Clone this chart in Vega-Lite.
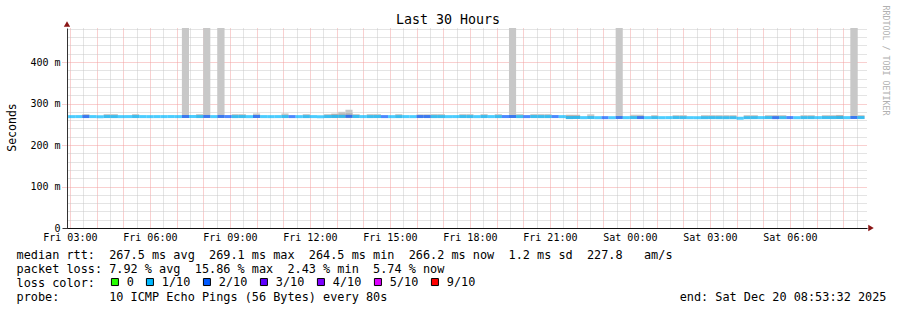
{
  "$schema": "https://vega.github.io/schema/vega-lite/v6.json",
  "width": 800,
  "height": 200,
  "autosize": {"type": "none"},
  "padding": {"left": 67, "top": 28, "right": 30, "bottom": 82},
  "background": "white",
  "config": {"view": {"stroke": null}, "font": "DejaVu Sans Mono", "scale": {"continuousPadding": 0}},
  "title": {"text": "Last 30 Hours", "anchor": "middle", "frame": "group", "dx": -19, "offset": -21, "font": "DejaVu Sans Mono", "fontSize": 13.3, "fontWeight": "normal", "color": "black"},
  "datasets": {
    "rtt": [
      {"t": "2025-12-19T03:04:00Z", "med": 268.4, "loss": "1/10"},
      {"t": "2025-12-19T03:20:00Z", "med": 268.5, "loss": "1/10"},
      {"t": "2025-12-19T03:36:00Z", "med": 268.6, "loss": "2/10"},
      {"t": "2025-12-19T03:52:00Z", "med": 268.5, "loss": "1/10"},
      {"t": "2025-12-19T04:08:00Z", "med": 268.4, "loss": "1/10"},
      {"t": "2025-12-19T04:24:00Z", "med": 268.6, "loss": "1/10"},
      {"t": "2025-12-19T04:40:00Z", "med": 268.5, "loss": "1/10"},
      {"t": "2025-12-19T04:56:00Z", "med": 268.4, "loss": "1/10"},
      {"t": "2025-12-19T05:12:00Z", "med": 268.5, "loss": "1/10"},
      {"t": "2025-12-19T05:28:00Z", "med": 268.6, "loss": "1/10"},
      {"t": "2025-12-19T05:44:00Z", "med": 268.5, "loss": "1/10"},
      {"t": "2025-12-19T06:00:00Z", "med": 268.4, "loss": "1/10"},
      {"t": "2025-12-19T06:16:00Z", "med": 268.5, "loss": "1/10"},
      {"t": "2025-12-19T06:32:00Z", "med": 268.5, "loss": "1/10"},
      {"t": "2025-12-19T06:48:00Z", "med": 268.6, "loss": "1/10"},
      {"t": "2025-12-19T07:04:00Z", "med": 268.5, "loss": "1/10"},
      {"t": "2025-12-19T07:20:00Z", "med": 268.7, "loss": "2/10"},
      {"t": "2025-12-19T07:36:00Z", "med": 268.5, "loss": "1/10"},
      {"t": "2025-12-19T07:52:00Z", "med": 268.6, "loss": "1/10"},
      {"t": "2025-12-19T08:08:00Z", "med": 268.8, "loss": "2/10"},
      {"t": "2025-12-19T08:24:00Z", "med": 268.5, "loss": "1/10"},
      {"t": "2025-12-19T08:40:00Z", "med": 268.8, "loss": "2/10"},
      {"t": "2025-12-19T08:56:00Z", "med": 268.6, "loss": "2/10"},
      {"t": "2025-12-19T09:12:00Z", "med": 268.5, "loss": "1/10"},
      {"t": "2025-12-19T09:28:00Z", "med": 268.6, "loss": "1/10"},
      {"t": "2025-12-19T09:44:00Z", "med": 268.4, "loss": "1/10"},
      {"t": "2025-12-19T10:00:00Z", "med": 268.7, "loss": "2/10"},
      {"t": "2025-12-19T10:16:00Z", "med": 268.5, "loss": "1/10"},
      {"t": "2025-12-19T10:32:00Z", "med": 268.4, "loss": "1/10"},
      {"t": "2025-12-19T10:48:00Z", "med": 268.5, "loss": "1/10"},
      {"t": "2025-12-19T11:04:00Z", "med": 268.6, "loss": "1/10"},
      {"t": "2025-12-19T11:20:00Z", "med": 268.5, "loss": "2/10"},
      {"t": "2025-12-19T11:36:00Z", "med": 268.4, "loss": "1/10"},
      {"t": "2025-12-19T11:52:00Z", "med": 268.5, "loss": "1/10"},
      {"t": "2025-12-19T12:08:00Z", "med": 268.5, "loss": "1/10"},
      {"t": "2025-12-19T12:24:00Z", "med": 268.4, "loss": "1/10"},
      {"t": "2025-12-19T12:40:00Z", "med": 268.6, "loss": "1/10"},
      {"t": "2025-12-19T12:56:00Z", "med": 268.8, "loss": "1/10"},
      {"t": "2025-12-19T13:12:00Z", "med": 269.0, "loss": "1/10"},
      {"t": "2025-12-19T13:28:00Z", "med": 269.1, "loss": "2/10"},
      {"t": "2025-12-19T13:44:00Z", "med": 268.7, "loss": "1/10"},
      {"t": "2025-12-19T14:00:00Z", "med": 268.5, "loss": "1/10"},
      {"t": "2025-12-19T14:16:00Z", "med": 268.5, "loss": "1/10"},
      {"t": "2025-12-19T14:32:00Z", "med": 268.6, "loss": "1/10"},
      {"t": "2025-12-19T14:48:00Z", "med": 268.5, "loss": "2/10"},
      {"t": "2025-12-19T15:04:00Z", "med": 268.4, "loss": "1/10"},
      {"t": "2025-12-19T15:20:00Z", "med": 268.5, "loss": "1/10"},
      {"t": "2025-12-19T15:36:00Z", "med": 268.5, "loss": "1/10"},
      {"t": "2025-12-19T15:52:00Z", "med": 268.4, "loss": "1/10"},
      {"t": "2025-12-19T16:08:00Z", "med": 268.6, "loss": "2/10"},
      {"t": "2025-12-19T16:24:00Z", "med": 268.6, "loss": "2/10"},
      {"t": "2025-12-19T16:40:00Z", "med": 268.5, "loss": "1/10"},
      {"t": "2025-12-19T16:56:00Z", "med": 268.5, "loss": "1/10"},
      {"t": "2025-12-19T17:12:00Z", "med": 268.4, "loss": "1/10"},
      {"t": "2025-12-19T17:28:00Z", "med": 268.5, "loss": "1/10"},
      {"t": "2025-12-19T17:44:00Z", "med": 268.6, "loss": "1/10"},
      {"t": "2025-12-19T18:00:00Z", "med": 268.5, "loss": "1/10"},
      {"t": "2025-12-19T18:16:00Z", "med": 268.4, "loss": "1/10"},
      {"t": "2025-12-19T18:32:00Z", "med": 268.6, "loss": "1/10"},
      {"t": "2025-12-19T18:48:00Z", "med": 268.5, "loss": "1/10"},
      {"t": "2025-12-19T19:04:00Z", "med": 268.5, "loss": "1/10"},
      {"t": "2025-12-19T19:20:00Z", "med": 268.6, "loss": "2/10"},
      {"t": "2025-12-19T19:36:00Z", "med": 268.7, "loss": "2/10"},
      {"t": "2025-12-19T19:52:00Z", "med": 268.5, "loss": "1/10"},
      {"t": "2025-12-19T20:08:00Z", "med": 268.5, "loss": "2/10"},
      {"t": "2025-12-19T20:24:00Z", "med": 268.6, "loss": "1/10"},
      {"t": "2025-12-19T20:40:00Z", "med": 268.5, "loss": "1/10"},
      {"t": "2025-12-19T20:56:00Z", "med": 268.5, "loss": "1/10"},
      {"t": "2025-12-19T21:12:00Z", "med": 268.6, "loss": "2/10"},
      {"t": "2025-12-19T21:28:00Z", "med": 268.4, "loss": "1/10"},
      {"t": "2025-12-19T21:44:00Z", "med": 266.1, "loss": "1/10"},
      {"t": "2025-12-19T22:00:00Z", "med": 266.2, "loss": "1/10"},
      {"t": "2025-12-19T22:16:00Z", "med": 266.0, "loss": "1/10"},
      {"t": "2025-12-19T22:32:00Z", "med": 266.2, "loss": "1/10"},
      {"t": "2025-12-19T22:48:00Z", "med": 265.9, "loss": "1/10"},
      {"t": "2025-12-19T23:04:00Z", "med": 266.0, "loss": "2/10"},
      {"t": "2025-12-19T23:20:00Z", "med": 265.9, "loss": "1/10"},
      {"t": "2025-12-19T23:36:00Z", "med": 266.2, "loss": "2/10"},
      {"t": "2025-12-19T23:52:00Z", "med": 266.0, "loss": "1/10"},
      {"t": "2025-12-20T00:08:00Z", "med": 266.1, "loss": "1/10"},
      {"t": "2025-12-20T00:24:00Z", "med": 266.1, "loss": "2/10"},
      {"t": "2025-12-20T00:40:00Z", "med": 265.9, "loss": "1/10"},
      {"t": "2025-12-20T00:56:00Z", "med": 266.0, "loss": "1/10"},
      {"t": "2025-12-20T01:12:00Z", "med": 265.9, "loss": "1/10"},
      {"t": "2025-12-20T01:28:00Z", "med": 266.0, "loss": "1/10"},
      {"t": "2025-12-20T01:44:00Z", "med": 266.1, "loss": "1/10"},
      {"t": "2025-12-20T02:00:00Z", "med": 266.0, "loss": "1/10"},
      {"t": "2025-12-20T02:16:00Z", "med": 265.9, "loss": "1/10"},
      {"t": "2025-12-20T02:32:00Z", "med": 265.8, "loss": "1/10"},
      {"t": "2025-12-20T02:48:00Z", "med": 265.9, "loss": "1/10"},
      {"t": "2025-12-20T03:04:00Z", "med": 266.0, "loss": "1/10"},
      {"t": "2025-12-20T03:20:00Z", "med": 265.9, "loss": "1/10"},
      {"t": "2025-12-20T03:36:00Z", "med": 265.8, "loss": "1/10"},
      {"t": "2025-12-20T03:52:00Z", "med": 265.9, "loss": "1/10"},
      {"t": "2025-12-20T04:08:00Z", "med": 264.5, "loss": "1/10"},
      {"t": "2025-12-20T04:24:00Z", "med": 265.9, "loss": "1/10"},
      {"t": "2025-12-20T04:40:00Z", "med": 266.0, "loss": "1/10"},
      {"t": "2025-12-20T04:56:00Z", "med": 266.0, "loss": "1/10"},
      {"t": "2025-12-20T05:12:00Z", "med": 266.1, "loss": "1/10"},
      {"t": "2025-12-20T05:28:00Z", "med": 266.0, "loss": "2/10"},
      {"t": "2025-12-20T05:44:00Z", "med": 266.0, "loss": "1/10"},
      {"t": "2025-12-20T06:00:00Z", "med": 266.1, "loss": "2/10"},
      {"t": "2025-12-20T06:16:00Z", "med": 265.9, "loss": "1/10"},
      {"t": "2025-12-20T06:32:00Z", "med": 266.0, "loss": "1/10"},
      {"t": "2025-12-20T06:48:00Z", "med": 266.0, "loss": "1/10"},
      {"t": "2025-12-20T07:04:00Z", "med": 266.0, "loss": "1/10"},
      {"t": "2025-12-20T07:20:00Z", "med": 266.1, "loss": "1/10"},
      {"t": "2025-12-20T07:36:00Z", "med": 266.1, "loss": "1/10"},
      {"t": "2025-12-20T07:52:00Z", "med": 266.2, "loss": "1/10"},
      {"t": "2025-12-20T08:08:00Z", "med": 266.0, "loss": "1/10"},
      {"t": "2025-12-20T08:24:00Z", "med": 266.3, "loss": "2/10"},
      {"t": "2025-12-20T08:40:00Z", "med": 266.2, "loss": "1/10"}
    ],
    "smoke": [
      {"t": "2025-12-19T03:36:00Z", "lo": 265, "hi": 274.5, "band": "outer"},
      {"t": "2025-12-19T04:24:00Z", "lo": 265, "hi": 274.5, "band": "outer"},
      {"t": "2025-12-19T04:40:00Z", "lo": 265, "hi": 274.5, "band": "outer"},
      {"t": "2025-12-19T05:28:00Z", "lo": 265, "hi": 274.5, "band": "outer"},
      {"t": "2025-12-19T07:20:00Z", "lo": 265, "hi": 600, "band": "outer"},
      {"t": "2025-12-19T07:52:00Z", "lo": 265, "hi": 274.5, "band": "outer"},
      {"t": "2025-12-19T08:08:00Z", "lo": 265, "hi": 600, "band": "outer"},
      {"t": "2025-12-19T08:40:00Z", "lo": 265, "hi": 600, "band": "outer"},
      {"t": "2025-12-19T09:12:00Z", "lo": 265, "hi": 274.5, "band": "outer"},
      {"t": "2025-12-19T09:28:00Z", "lo": 265, "hi": 274.5, "band": "outer"},
      {"t": "2025-12-19T10:00:00Z", "lo": 265, "hi": 276, "band": "outer"},
      {"t": "2025-12-19T11:04:00Z", "lo": 265, "hi": 276, "band": "outer"},
      {"t": "2025-12-19T11:52:00Z", "lo": 265, "hi": 274.5, "band": "outer"},
      {"t": "2025-12-19T12:40:00Z", "lo": 265, "hi": 274.5, "band": "outer"},
      {"t": "2025-12-19T12:56:00Z", "lo": 265, "hi": 275.5, "band": "outer"},
      {"t": "2025-12-19T12:56:00Z", "lo": 265, "hi": 275, "band": "inner"},
      {"t": "2025-12-19T13:12:00Z", "lo": 265, "hi": 280, "band": "outer"},
      {"t": "2025-12-19T13:12:00Z", "lo": 265, "hi": 275.5, "band": "inner"},
      {"t": "2025-12-19T13:28:00Z", "lo": 265, "hi": 285, "band": "outer"},
      {"t": "2025-12-19T13:28:00Z", "lo": 265, "hi": 276.5, "band": "inner"},
      {"t": "2025-12-19T13:44:00Z", "lo": 265, "hi": 274.5, "band": "outer"},
      {"t": "2025-12-19T14:16:00Z", "lo": 265, "hi": 274.5, "band": "outer"},
      {"t": "2025-12-19T14:32:00Z", "lo": 265, "hi": 274.5, "band": "outer"},
      {"t": "2025-12-19T15:20:00Z", "lo": 265, "hi": 274.5, "band": "outer"},
      {"t": "2025-12-19T16:08:00Z", "lo": 265, "hi": 274, "band": "outer"},
      {"t": "2025-12-19T16:24:00Z", "lo": 265, "hi": 274, "band": "outer"},
      {"t": "2025-12-19T16:40:00Z", "lo": 265, "hi": 274.5, "band": "outer"},
      {"t": "2025-12-19T16:56:00Z", "lo": 265, "hi": 274.5, "band": "outer"},
      {"t": "2025-12-19T17:44:00Z", "lo": 265, "hi": 274.5, "band": "outer"},
      {"t": "2025-12-19T18:00:00Z", "lo": 265, "hi": 274.5, "band": "outer"},
      {"t": "2025-12-19T18:32:00Z", "lo": 265, "hi": 274.5, "band": "outer"},
      {"t": "2025-12-19T19:04:00Z", "lo": 265, "hi": 274.5, "band": "outer"},
      {"t": "2025-12-19T19:36:00Z", "lo": 265, "hi": 600, "band": "outer"},
      {"t": "2025-12-19T19:52:00Z", "lo": 265, "hi": 274.5, "band": "outer"},
      {"t": "2025-12-19T20:24:00Z", "lo": 265, "hi": 274.5, "band": "outer"},
      {"t": "2025-12-19T20:40:00Z", "lo": 265, "hi": 274.5, "band": "outer"},
      {"t": "2025-12-19T20:56:00Z", "lo": 265, "hi": 274.5, "band": "outer"},
      {"t": "2025-12-19T21:44:00Z", "lo": 263, "hi": 273, "band": "outer"},
      {"t": "2025-12-19T21:44:00Z", "lo": 263, "hi": 272, "band": "inner"},
      {"t": "2025-12-19T22:00:00Z", "lo": 263, "hi": 273, "band": "outer"},
      {"t": "2025-12-19T22:00:00Z", "lo": 263, "hi": 272, "band": "inner"},
      {"t": "2025-12-19T22:32:00Z", "lo": 263, "hi": 274, "band": "outer"},
      {"t": "2025-12-19T23:36:00Z", "lo": 263, "hi": 600, "band": "outer"},
      {"t": "2025-12-20T00:08:00Z", "lo": 263, "hi": 273, "band": "outer"},
      {"t": "2025-12-20T00:24:00Z", "lo": 263, "hi": 273, "band": "outer"},
      {"t": "2025-12-20T00:56:00Z", "lo": 263, "hi": 272, "band": "outer"},
      {"t": "2025-12-20T01:44:00Z", "lo": 263, "hi": 272, "band": "outer"},
      {"t": "2025-12-20T02:00:00Z", "lo": 263, "hi": 272, "band": "outer"},
      {"t": "2025-12-20T02:48:00Z", "lo": 263, "hi": 272, "band": "outer"},
      {"t": "2025-12-20T03:04:00Z", "lo": 263, "hi": 272, "band": "outer"},
      {"t": "2025-12-20T03:20:00Z", "lo": 263, "hi": 272, "band": "outer"},
      {"t": "2025-12-20T03:36:00Z", "lo": 263, "hi": 272, "band": "outer"},
      {"t": "2025-12-20T03:52:00Z", "lo": 263, "hi": 272, "band": "outer"},
      {"t": "2025-12-20T04:24:00Z", "lo": 263, "hi": 272, "band": "outer"},
      {"t": "2025-12-20T04:40:00Z", "lo": 263, "hi": 272, "band": "outer"},
      {"t": "2025-12-20T05:12:00Z", "lo": 263, "hi": 272, "band": "outer"},
      {"t": "2025-12-20T05:28:00Z", "lo": 263, "hi": 272, "band": "outer"},
      {"t": "2025-12-20T05:44:00Z", "lo": 263, "hi": 272, "band": "outer"},
      {"t": "2025-12-20T06:32:00Z", "lo": 263, "hi": 272, "band": "outer"},
      {"t": "2025-12-20T06:48:00Z", "lo": 263, "hi": 272, "band": "outer"},
      {"t": "2025-12-20T07:20:00Z", "lo": 263, "hi": 272, "band": "outer"},
      {"t": "2025-12-20T07:36:00Z", "lo": 263, "hi": 272, "band": "outer"},
      {"t": "2025-12-20T07:52:00Z", "lo": 263, "hi": 272.5, "band": "outer"},
      {"t": "2025-12-20T07:52:00Z", "lo": 263, "hi": 272, "band": "inner"},
      {"t": "2025-12-20T08:24:00Z", "lo": 263, "hi": 600, "band": "outer"},
      {"t": "2025-12-20T08:40:00Z", "lo": 263, "hi": 272, "band": "outer"}
    ]
  },
  "layer": [
    {
      "data": {"name": "smoke"},
      "transform": [{"filter": {"field": "band", "equal": "outer"}}],
      "mark": {"type": "bar", "width": 7.11, "color": "#c8c8c8"},
      "encoding": {
        "x": {"field": "t", "type": "temporal",
          "scale": {"type": "utc", "domain": [1766112812000, 1766220812000], "padding": 0},
          "axis": {"orient": "bottom", "grid": true, "gridColor": "#c8c8c8", "gridDash": [1, 1], "gridWidth": 1,
            "values": [1766115000000, 1766118600000, 1766122200000, 1766125800000, 1766129400000, 1766133000000, 1766136600000, 1766140200000, 1766143800000, 1766147400000, 1766151000000, 1766154600000, 1766158200000, 1766161800000, 1766165400000, 1766169000000, 1766172600000, 1766176200000, 1766179800000, 1766183400000, 1766187000000, 1766190600000, 1766194200000, 1766197800000, 1766201400000, 1766205000000, 1766208600000, 1766212200000, 1766215800000, 1766219400000],
            "labels": false, "ticks": false, "domain": false, "title": null, "zindex": 0}},
        "y": {"field": "lo", "type": "quantitative",
          "scale": {"domain": [0, 482], "nice": false, "zero": true, "clamp": true, "padding": 0},
          "axis": {"orient": "left", "grid": true, "gridColor": "#c8c8c8", "gridDash": [1, 1], "gridWidth": 1,
            "values": [20, 40, 60, 80, 120, 140, 160, 180, 220, 240, 260, 280, 320, 340, 360, 380, 420, 440, 460, 480],
            "labels": false, "ticks": false, "domain": false, "title": null, "zindex": 0}},
        "y2": {"field": "hi"}
      }
    },
    {
      "data": {"name": "smoke"},
      "transform": [{"filter": {"field": "band", "equal": "inner"}}],
      "mark": {"type": "bar", "width": 7.11, "color": "#b4b4b4"},
      "encoding": {
        "x": {"field": "t", "type": "temporal",
          "scale": {"type": "utc", "domain": [1766112812000, 1766220812000], "padding": 0},
          "axis": {"orient": "bottom", "grid": true, "gridColor": "#f3a0a0", "gridDash": [1, 1], "gridWidth": 1,
            "values": [1766113200000, 1766116800000, 1766120400000, 1766124000000, 1766127600000, 1766131200000, 1766134800000, 1766138400000, 1766142000000, 1766145600000, 1766149200000, 1766152800000, 1766156400000, 1766160000000, 1766163600000, 1766167200000, 1766170800000, 1766174400000, 1766178000000, 1766181600000, 1766185200000, 1766188800000, 1766192400000, 1766196000000, 1766199600000, 1766203200000, 1766206800000, 1766210400000, 1766214000000, 1766217600000],
            "labels": false, "ticks": false, "domain": false, "title": null, "zindex": 0}},
        "y": {"field": "lo", "type": "quantitative",
          "scale": {"domain": [0, 482], "nice": false, "zero": true, "clamp": true, "padding": 0},
          "axis": {"orient": "left", "grid": true,
            "gridColor": {"condition": {"test": "datum.value == 0", "value": "#333333"}, "value": "#f3a0a0"},
            "gridDash": [1, 1], "gridWidth": 1,
            "values": [0, 100, 200, 300, 400],
            "ticks": true, "tickSize": 5,
            "tickColor": {"condition": {"test": "datum.value == 0", "value": "#333333"}, "value": "#f3a0a0"},
            "tickDash": {"condition": {"test": "datum.value == 0", "value": []}, "value": [1, 1]},
            "labels": true, "labelExpr": "datum.value == 0 ? '0\u00a0\u00a0' : datum.value + ' m'",
            "labelFont": "DejaVu Sans Mono", "labelFontSize": 10, "labelColor": "black", "labelPadding": 2,
            "domain": true, "domainColor": "#333333",
            "title": "Seconds", "titleFont": "DejaVu Sans Mono", "titleFontSize": 11.5, "titleFontWeight": "normal", "titleColor": "black",
            "titleX": -52, "titleY": 99, "titleAngle": -90, "titleAlign": "center", "titleBaseline": "alphabetic",
            "zindex": 0}},
        "y2": {"field": "hi"}
      }
    },
    {
      "data": {"name": "rtt"},
      "mark": {"type": "tick", "orient": "horizontal", "size": 7.11, "thickness": 3},
      "encoding": {
        "x": {"field": "t", "type": "temporal",
          "scale": {"type": "utc", "domain": [1766112812000, 1766220812000], "padding": 0},
          "axis": {"orient": "bottom", "grid": false,
            "values": [1766113200000, 1766124000000, 1766134800000, 1766145600000, 1766156400000, 1766167200000, 1766178000000, 1766188800000, 1766199600000, 1766210400000],
            "labelExpr": "utcFormat(datum.value, '%a %H:%M')",
            "labelFont": "DejaVu Sans Mono", "labelFontSize": 10, "labelColor": "black", "labelPadding": 4.5,
            "labelOverlap": false, "labelFlush": false,
            "ticks": false, "domain": true, "domainColor": "#111111",
            "title": [
              "median\u00a0rtt:\u00a0\u00a0267.5\u00a0ms\u00a0avg\u00a0\u00a0269.1\u00a0ms\u00a0max\u00a0\u00a0264.5\u00a0ms\u00a0min\u00a0\u00a0266.2\u00a0ms\u00a0now\u00a0\u00a01.2\u00a0ms\u00a0sd\u00a0\u00a0227.8\u00a0\u00a0\u00a0am/s",
              "packet\u00a0loss:\u00a07.92\u00a0%\u00a0avg\u00a0\u00a015.86\u00a0%\u00a0max\u00a0\u00a02.43\u00a0%\u00a0min\u00a0\u00a05.74\u00a0%\u00a0now",
              "loss\u00a0color:",
              "probe:\u00a0\u00a0\u00a0\u00a0\u00a0\u00a0\u00a010\u00a0ICMP\u00a0Echo\u00a0Pings\u00a0(56\u00a0Bytes)\u00a0every\u00a080s\u00a0\u00a0\u00a0\u00a0\u00a0\u00a0\u00a0\u00a0\u00a0\u00a0\u00a0\u00a0\u00a0\u00a0\u00a0\u00a0\u00a0\u00a0\u00a0\u00a0\u00a0\u00a0\u00a0\u00a0\u00a0\u00a0\u00a0\u00a0\u00a0\u00a0\u00a0\u00a0\u00a0\u00a0\u00a0\u00a0\u00a0\u00a0\u00a0\u00a0\u00a0end:\u00a0Sat\u00a0Dec\u00a020\u00a008:53:32\u00a02025"
            ],
            "titleFont": "DejaVu Sans Mono", "titleFontSize": 11.85, "titleFontWeight": "normal", "titleColor": "black",
            "titleX": -51, "titleY": 30, "titleAlign": "left", "titleAnchor": "start", "titleBaseline": "alphabetic",
            "titleLineHeight": 14, "titleLimit": 2000,
            "zindex": 1}},
        "y": {"field": "med", "type": "quantitative",
          "scale": {"domain": [0, 482], "nice": false, "zero": true, "clamp": true, "padding": 0},
          "axis": {"orient": "right", "grid": false, "labels": false, "ticks": false, "domain": false,
            "title": "RRDTOOL / TOBI OETIKER", "titleFont": "DejaVu Sans Mono", "titleFontSize": 8.3, "titleFontWeight": "normal",
            "titleColor": "#b0b0b0", "titleAngle": 90, "titleX": 15, "titleY": -23, "titleAlign": "left", "titleBaseline": "alphabetic",
            "zindex": 0}},
        "color": {"field": "loss", "type": "nominal",
          "scale": {"domain": ["0", "1/10", "2/10", "3/10", "4/10", "5/10", "9/10"],
            "range": ["#26ff00", "#00b8ff", "#0059ff", "#5e00ff", "#7e00ff", "#dd00ff", "#ff0000"]},
          "legend": {"orient": "none", "legendX": 42, "legendY": 248, "direction": "horizontal", "title": null,
            "symbolType": "square", "symbolSize": 49, "symbolStrokeColor": "black", "symbolStrokeWidth": 1, "symbolOpacity": 1,
            "labelFont": "DejaVu Sans Mono", "labelFontSize": 11.85, "labelColor": "black", "labelOffset": 6,
            "gridAlign": "each", "columnPadding": 10, "padding": 0, "offset": 0}}
      }
    },
    {
      "data": {"values": [{"end": "y"}]},
      "mark": {"type": "point", "shape": "triangle-up", "filled": true, "size": 40, "color": "#8a1515", "opacity": 1, "yOffset": -4},
      "encoding": {
        "x": {"datum": 1766112812000, "type": "temporal", "axis": null},
        "y": {"datum": 482, "type": "quantitative", "axis": null}
      }
    },
    {
      "data": {"values": [{"end": "x"}]},
      "mark": {"type": "point", "shape": "triangle-right", "filled": true, "size": 40, "color": "#8a1515", "opacity": 1, "xOffset": 4},
      "encoding": {
        "x": {"datum": 1766220812000, "type": "temporal", "axis": null},
        "y": {"datum": 0, "type": "quantitative", "axis": null}
      }
    }
  ],
  "resolve": {"axis": {"x": "independent", "y": "independent"}}
}
